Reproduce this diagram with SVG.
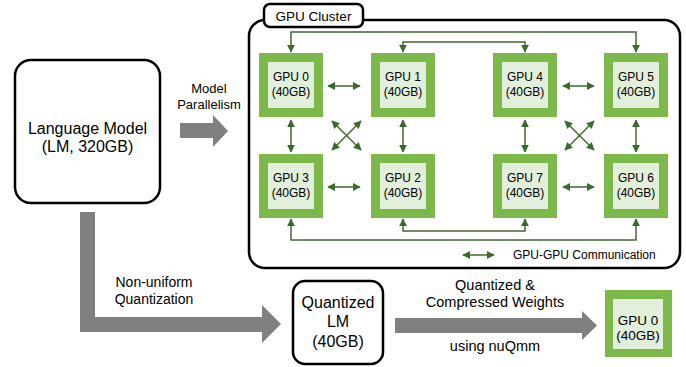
<svg xmlns="http://www.w3.org/2000/svg" width="686" height="367" viewBox="0 0 686 367">
<style>
.t{font-family:"Liberation Sans",Arial,sans-serif;fill:#000;text-anchor:middle}
.box{fill:#fff;stroke:#000;stroke-width:2.5}
.go{fill:#7db84a}
.gi{fill:#e2efda}
.c{stroke:#3c6a2c;stroke-width:1.5;fill:none}
.gray{fill:#808080}
</style>
<defs>
<marker id="a2" viewBox="0 0 10 10" refX="9" refY="5" markerWidth="8" markerHeight="8" orient="auto-start-reverse" markerUnits="userSpaceOnUse">
<path d="M0,0 L10,5 L0,10 z" fill="#3c6a2c"/>
</marker>
</defs>

<g id="cluster">
<rect class="box" x="249" y="20" width="431" height="248" rx="16"/>
<rect class="box" x="264" y="4" width="99" height="23" rx="6"/>
<text class="t" x="313.5" y="20.5" font-size="13.5">GPU Cluster</text>
</g>

<g id="lm">
<rect class="box" x="15" y="60" width="145" height="143" rx="16"/>
<text class="t" x="87.5" y="134" font-size="16">Language Model</text>
<text class="t" x="87.5" y="152" font-size="16">(LM, 320GB)</text>
</g>

<g id="gpu0"><rect class="go" x="259" y="53" width="64" height="64"/><rect class="gi" x="268" y="62" width="46" height="46"/><text class="t" x="291" y="81" font-size="12">GPU 0</text><text class="t" x="291" y="96" font-size="12">(40GB)</text></g>
<g id="gpu1"><rect class="go" x="371" y="53" width="64" height="64"/><rect class="gi" x="380" y="62" width="46" height="46"/><text class="t" x="403" y="81" font-size="12">GPU 1</text><text class="t" x="403" y="96" font-size="12">(40GB)</text></g>
<g id="gpu4"><rect class="go" x="493" y="53" width="64" height="64"/><rect class="gi" x="502" y="62" width="46" height="46"/><text class="t" x="525" y="81" font-size="12">GPU 4</text><text class="t" x="525" y="96" font-size="12">(40GB)</text></g>
<g id="gpu5"><rect class="go" x="604" y="53" width="64" height="64"/><rect class="gi" x="613" y="62" width="46" height="46"/><text class="t" x="636" y="81" font-size="12">GPU 5</text><text class="t" x="636" y="96" font-size="12">(40GB)</text></g>
<g id="gpu3"><rect class="go" x="259" y="154" width="64" height="64"/><rect class="gi" x="268" y="163" width="46" height="46"/><text class="t" x="291" y="182" font-size="12">GPU 3</text><text class="t" x="291" y="197" font-size="12">(40GB)</text></g>
<g id="gpu2"><rect class="go" x="371" y="154" width="64" height="64"/><rect class="gi" x="380" y="163" width="46" height="46"/><text class="t" x="403" y="182" font-size="12">GPU 2</text><text class="t" x="403" y="197" font-size="12">(40GB)</text></g>
<g id="gpu7"><rect class="go" x="493" y="154" width="64" height="64"/><rect class="gi" x="502" y="163" width="46" height="46"/><text class="t" x="525" y="182" font-size="12">GPU 7</text><text class="t" x="525" y="197" font-size="12">(40GB)</text></g>
<g id="gpu6"><rect class="go" x="604" y="154" width="64" height="64"/><rect class="gi" x="613" y="163" width="46" height="46"/><text class="t" x="636" y="182" font-size="12">GPU 6</text><text class="t" x="636" y="197" font-size="12">(40GB)</text></g>

<g id="qlm">
<rect class="box" x="293" y="281" width="90" height="83" rx="12"/>
<text class="t" x="338" y="308" font-size="16">Quantized</text>
<text class="t" x="338" y="327" font-size="16">LM</text>
<text class="t" x="338" y="347" font-size="16">(40GB)</text>
</g>

<g id="gpu0b"><rect class="go" x="605" y="290" width="67" height="67"/><rect class="gi" x="613" y="299" width="50" height="50"/><text class="t" x="638" y="325" font-size="13.5">GPU 0</text><text class="t" x="638" y="340" font-size="13.5">(40GB)</text></g>

<g id="connectors">
<path class="c" d="M291,52 V32 H636 V52" marker-start="url(#a2)" marker-end="url(#a2)"/>
<path class="c" d="M403,52 V42 H525 V52" marker-start="url(#a2)" marker-end="url(#a2)"/>
<path class="c" d="M403,219 V231 H525 V219" marker-start="url(#a2)" marker-end="url(#a2)"/>
<path class="c" d="M291,219 V240 H636 V219" marker-start="url(#a2)" marker-end="url(#a2)"/>
<line class="c" x1="328" y1="86" x2="360" y2="86" marker-start="url(#a2)" marker-end="url(#a2)"/>
<line class="c" x1="563" y1="86" x2="594" y2="86" marker-start="url(#a2)" marker-end="url(#a2)"/>
<line class="c" x1="328" y1="187" x2="360" y2="187" marker-start="url(#a2)" marker-end="url(#a2)"/>
<line class="c" x1="563" y1="187" x2="594" y2="187" marker-start="url(#a2)" marker-end="url(#a2)"/>
<line class="c" x1="291" y1="120" x2="291" y2="152" marker-start="url(#a2)" marker-end="url(#a2)"/>
<line class="c" x1="403" y1="120" x2="403" y2="152" marker-start="url(#a2)" marker-end="url(#a2)"/>
<line class="c" x1="525" y1="120" x2="525" y2="152" marker-start="url(#a2)" marker-end="url(#a2)"/>
<line class="c" x1="636" y1="120" x2="636" y2="152" marker-start="url(#a2)" marker-end="url(#a2)"/>
<line class="c" x1="332" y1="121" x2="361" y2="150" marker-start="url(#a2)" marker-end="url(#a2)"/>
<line class="c" x1="361" y1="121" x2="332" y2="150" marker-start="url(#a2)" marker-end="url(#a2)"/>
<line class="c" x1="565" y1="121" x2="594" y2="150" marker-start="url(#a2)" marker-end="url(#a2)"/>
<line class="c" x1="594" y1="121" x2="565" y2="150" marker-start="url(#a2)" marker-end="url(#a2)"/>
<line class="c" x1="463" y1="255" x2="494" y2="255" marker-start="url(#a2)" marker-end="url(#a2)"/>
<path class="gray" d="M180,123 H213 V115 L228,131 L213,147 V138 H180 z"/>
<path class="gray" d="M80,212 H95 V317 H262 V305 L281,324 L262,343 V332 H80 z"/>
<path class="gray" d="M395,318 H582 V311 L597,325.5 L582,340 V333 H395 z"/>
</g>

<g id="labels">
<text class="t" x="209" y="93" font-size="13">Model</text>
<text class="t" x="209" y="109" font-size="13">Parallelism</text>
<text class="t" x="154" y="287" font-size="14">Non-uniform</text>
<text class="t" x="154" y="304" font-size="14">Quantization</text>
<text class="t" x="495" y="290" font-size="14.5">Quantized &amp;</text>
<text class="t" x="495" y="307" font-size="14.5">Compressed Weights</text>
<text class="t" x="495" y="351" font-size="14.5">using nuQmm</text>
<text class="t" x="513" y="258.5" font-size="12" style="text-anchor:start">GPU-GPU Communication</text>
</g>
</svg>
